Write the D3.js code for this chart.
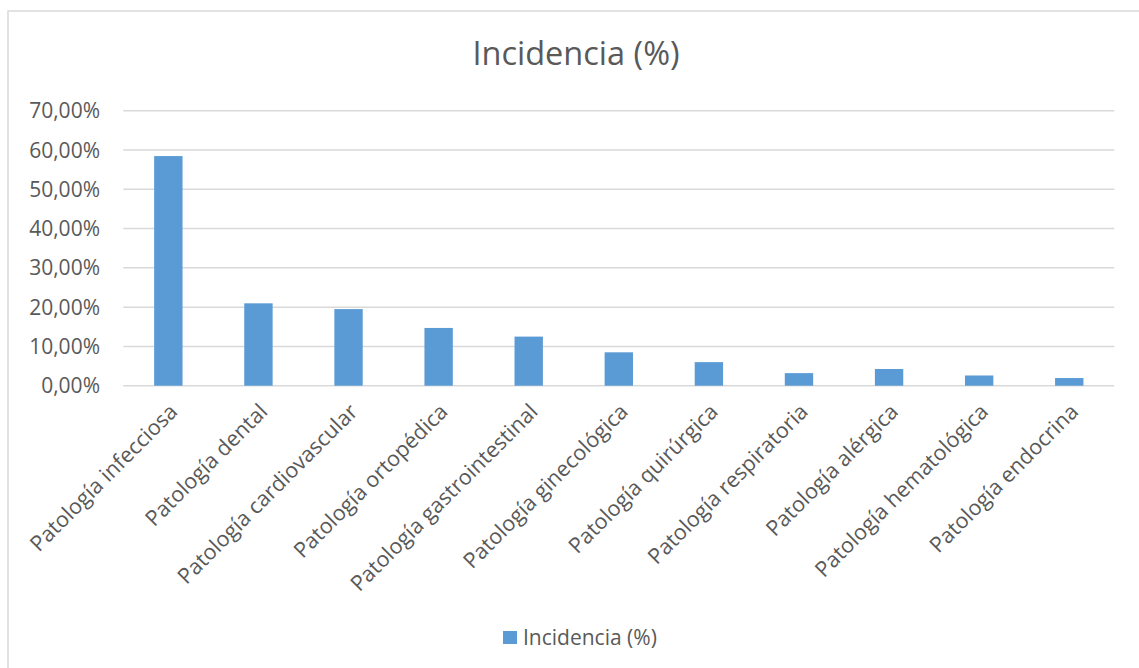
<!DOCTYPE html>
<html><head><meta charset="utf-8">
<script src="https://cdn.jsdelivr.net/npm/d3@7"></script>
<style>body{margin:0;background:#fff}svg{display:block}text{font-family:"Open Sans",sans-serif;fill:#595959}</style>
</head><body><svg id="c" width="1139" height="668"></svg>
<script>
const categories = ["Patología infecciosa","Patología dental","Patología cardiovascular","Patología ortopédica","Patología gastrointestinal","Patología ginecológica","Patología quirúrgica","Patología respiratoria","Patología alérgica","Patología hematológica","Patología endocrina"];
const values = [58.45, 20.97, 19.5, 14.7, 12.5, 8.5, 6.0, 3.2, 4.25, 2.6, 1.95];
const yTicks = [0,10,20,30,40,50,60,70];
const title = "Incidencia (%)";
const seriesName = "Incidencia (%)";

(function(){
const svg = d3.select("#c");
svg.append("rect").attr("x",8).attr("y",11).attr("width",1200).attr("height",800)
  .attr("fill","#fff").attr("stroke","#D9D9D9").attr("stroke-width",1.5);

const pL=123.3, pR=1114.3, pT=110.7, pB=385.7;
const x = d3.scaleBand().domain(categories).range([pL,pR]).paddingInner(0.685).paddingOuter(0.3425);
const y = d3.scaleLinear().domain([0,70]).range([pB,pT]);
const fmt = v => d3.format(".2f")(v).replace(".",",")+"%";

svg.append("g").selectAll("line").data(yTicks).join("line")
  .attr("x1",pL).attr("x2",pR).attr("y1",d=>y(d)).attr("y2",d=>y(d))
  .attr("stroke","#D9D9D9").attr("stroke-width",1.5);

svg.append("g").selectAll("text").data(yTicks).join("text")
  .attr("x",100).attr("y",d=>y(d)).attr("dy","0.36em").attr("text-anchor","end")
  .style("font-size","21px").text(fmt);

svg.append("g").selectAll("rect").data(values).join("rect")
  .attr("x",(d,i)=>x(categories[i])).attr("width",x.bandwidth())
  .attr("y",d=>y(d)).attr("height",d=>pB-y(d)).attr("fill","#5B9BD5");

svg.append("g").selectAll("text").data(categories).join("text")
  .attr("transform",d=>`translate(${x(d)+x.bandwidth()/2+5},${pB+22}) rotate(-45)`)
  .attr("text-anchor","end").attr("dy","0.35em").style("font-size","21.5px").text(d=>d);

svg.append("text").attr("x",576).attr("y",65).attr("text-anchor","middle")
  .style("font-size","32.5px").text(title);

svg.append("rect").attr("x",503).attr("y",631).attr("width",14).attr("height",13).attr("fill","#5B9BD5");
svg.append("text").attr("x",523).attr("y",637.5).attr("dy","0.36em").style("font-size","21px").text(seriesName);
})();
</script></body></html>
